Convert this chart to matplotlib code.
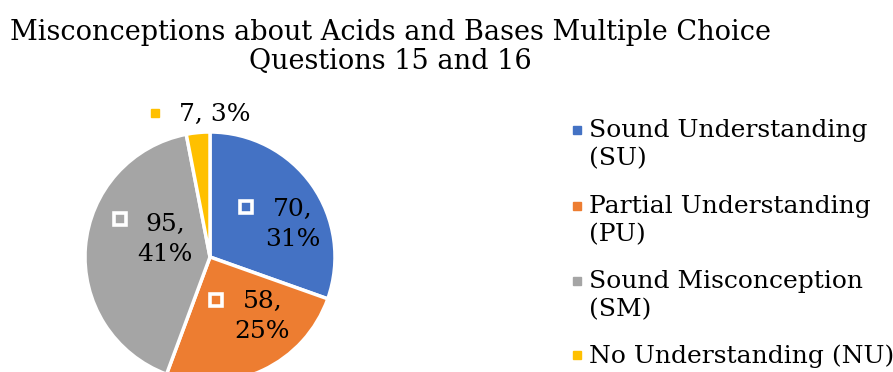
import matplotlib
matplotlib.use("Agg")
import matplotlib.pyplot as plt
from matplotlib.lines import Line2D

categories = ["Sound Understanding\n(SU)", "Partial Understanding\n(PU)",
              "Sound Misconception\n(SM)", "No Understanding (NU)"]
counts = [70, 58, 95, 7]
percents = [31, 25, 41, 3]
colors = ["#4472C4", "#ED7D31", "#A5A5A5", "#FFC000"]
title = "Misconceptions about Acids and Bases Multiple Choice\nQuestions 15 and 16"

plt.rcParams["font.family"] = ["DejaVu Serif"]

W, H = 893, 372
fig = plt.figure(figsize=(W / 100, H / 100), dpi=100)

# pie axes: centre (210, 257) px from top-left, radius 125 px
cx, cy, r = 210, 257, 125
ax = fig.add_axes([(cx - r) / W, (H - cy - r) / H, 2 * r / W, 2 * r / H])
ax.pie(counts, colors=colors, startangle=90, counterclock=False,
       radius=1.0, wedgeprops=dict(edgecolor="white", linewidth=2.5))
ax.set_xlim(-1, 1)
ax.set_ylim(-1, 1)
ax.set_aspect("equal")
ax.axis("off")

# data labels: (marker x, marker y, text x, text y, text)
label_pos = [
    (0.29, 0.40, 0.66, 0.26, "{},\n{}%"),
    (0.05, -0.345, 0.42, -0.475, "{},\n{}%"),
    (-0.72, 0.305, -0.36, 0.14, "{},\n{}%"),
    (-0.44, 1.155, 0.035, 1.14, "{}, {}%"),
]
for i, (mx, my, tx, ty, fmt) in enumerate(label_pos):
    inside = i < 3
    if inside:
        ax.plot([mx], [my], marker="s", markersize=8.5, markerfacecolor=colors[i],
                markeredgecolor="white", markeredgewidth=2.6, clip_on=False)
    else:
        ax.plot([mx], [my], marker="s", markersize=6, markerfacecolor=colors[i],
                markeredgecolor=colors[i], clip_on=False)
    ax.text(tx, ty, fmt.format(counts[i], percents[i]), ha="center", va="center",
            fontsize=18, color="black", linespacing=1.42, clip_on=False)

# title
fig.text(390 / W, 1 - 47 / H, title, ha="center", va="center", fontsize=19.5,
         linespacing=1.12)

# legend drawn entry by entry, marker aligned with the first text line
leg_y = [130, 206, 281, 355]
for i, lab in enumerate(categories):
    y = 1 - leg_y[i] / H
    fig.add_artist(Line2D([577 / W], [y], marker="s", markersize=6,
                          markerfacecolor=colors[i], markeredgecolor=colors[i],
                          transform=fig.transFigure))
    fig.text(589 / W, 1 - (leg_y[i] - 11) / H, lab, ha="left", va="top",
             fontsize=18, linespacing=1.27, transform=fig.transFigure)

fig.savefig("out.png", dpi=100)
